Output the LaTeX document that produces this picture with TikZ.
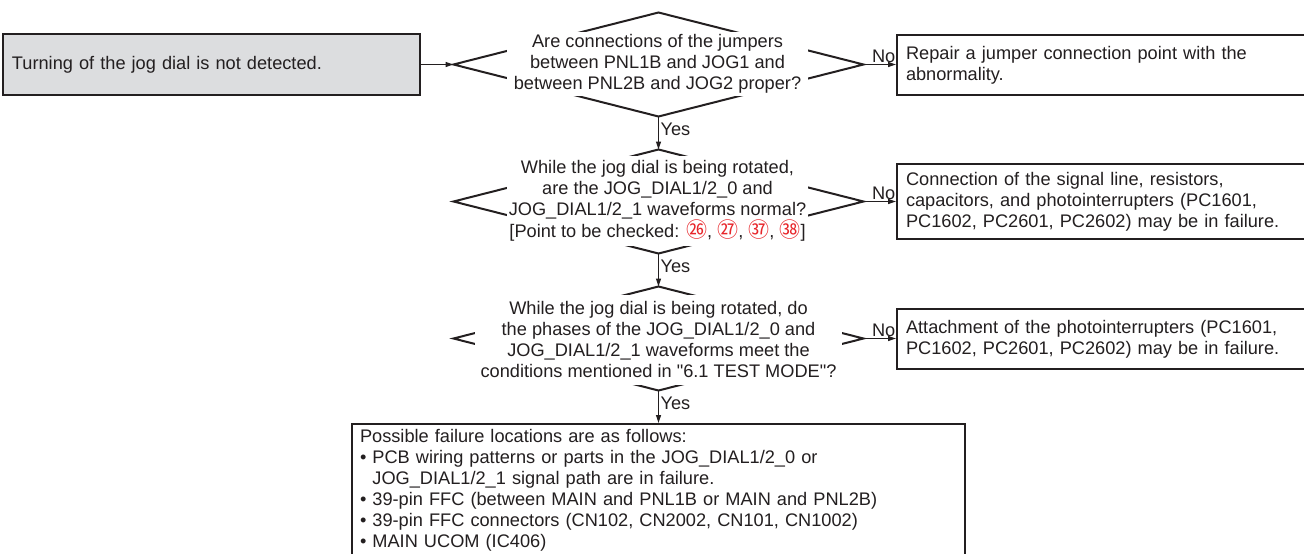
\documentclass[tikz,border=0pt]{standalone}
\usepackage{fontspec}
\setmainfont{Liberation Sans}[Ligatures=TeXOff]
\newfontfamily\cjkfont{Noto Sans CJK JP}
\usetikzlibrary{arrows.meta,shapes.geometric}
\definecolor{ink}{HTML}{231F20}
\definecolor{startgray}{HTML}{DCDDDF}
\definecolor{markred}{HTML}{E8262B}
% red circled test-point numbers
\newcommand{\tpnum}[1]{{\cjkfont\fontsize{21}{21}\selectfont\color{markred}#1}}

\begin{document}
\begin{tikzpicture}[x=1pt,y=-1pt,
  every node/.style={font=\fontsize{18.2}{21}\selectfont, text=ink},
  startbox/.style={draw=ink, line width=2pt, fill=startgray, inner xsep=9pt,
    inner ysep=0pt, align=left},
  resultbox/.style={draw=ink, line width=2pt, fill=white, inner xsep=9pt,
    inner ysep=0pt, align=left, text width=405pt},
  decision/.style={shape=diamond, draw=ink, line width=2pt, inner sep=0pt,
    outer sep=0pt, minimum width=410pt, minimum height=104pt},
  qtext/.style={fill=white, inner sep=0pt, align=center},
  conn/.style={draw=ink, line width=1.2pt, -{Triangle[length=8pt,width=5pt]}},
  branch/.style={inner sep=1.5pt}
]
\clip (0,0) rectangle (1304,554);

% starting symptom
\node[startbox, text width=399pt, minimum height=61pt] (start) at (211.5,64.5)
  {Turning of the jog dial is not detected.};

% first check: jumper connections
\node[decision] (q1) at (658.5,64.5) {};
\node[qtext, minimum width=301pt, minimum height=64pt] (q1t) at (657.5,64)
  {Are connections of the jumpers\\between PNL1B and JOG1 and\\between PNL2B and JOG2 proper?};
\node[resultbox, minimum height=60pt] (r1) at (1108.5,65)
  {Repair a jumper connection point with the\\abnormality.};

% second check: waveforms
\node[decision] (q2) at (658.5,201.5) {};
\node[qtext, minimum width=301pt, minimum height=90pt] (q2t) at (657.5,201)
  {While the jog dial is being rotated,\\are the JOG\_DIAL1/2\_0 and\\JOG\_DIAL1/2\_1 waveforms normal?\\
   {[}Point to be checked: \tpnum{㉖}, \tpnum{㉗}, \tpnum{㊲}, \tpnum{㊳}{]}};
\node[resultbox, minimum height=75pt] (r2) at (1108.5,201.5)
  {Connection of the signal line, resistors,\\capacitors, and photointerrupters (PC1601,\\PC1602, PC2601, PC2602) may be in failure.};

% third check: waveform phases
\node[decision] (q3) at (658.5,338.5) {};
\node[qtext, minimum width=367pt, minimum height=90pt] (q3t) at (658.5,339.5)
  {While the jog dial is being rotated, do\\the phases of the JOG\_DIAL1/2\_0 and\\JOG\_DIAL1/2\_1 waveforms meet the\\conditions mentioned in "6.1 TEST MODE"?};
\node[resultbox, minimum height=60pt] (r3) at (1108.5,339)
  {Attachment of the photointerrupters (PC1601,\\PC1602, PC2601, PC2602) may be in failure.};

% remaining failure locations
\node[draw=ink, line width=2pt, fill=white, anchor=north, inner xsep=8pt,
  inner ysep=5pt, text width=597pt, align=left] (fin) at (658.5,423)
  {Possible failure locations are as follows:\\
   • PCB wiring patterns or parts in the JOG\_DIAL1/2\_0 or\\
   \phantom{• }JOG\_DIAL1/2\_1 signal path are in failure.\\
   • 39-pin FFC (between MAIN and PNL1B or MAIN and PNL2B)\\
   • 39-pin FFC connectors (CN102, CN2002, CN101, CN1002)\\
   • MAIN UCOM (IC406)};

% connectors
\draw[conn] (start.east) -- (q1.west);
\draw[conn] (q1.east) -- node[above, branch, pos=0.62] {No} (q1.east -| r1.west);
\draw[conn] (q2.east) -- node[above, branch, pos=0.62] {No} (q2.east -| r2.west);
\draw[conn] (q3.east) -- node[above, branch, pos=0.62] {No} (q3.east -| r3.west);
\draw[conn] (q1.south) -- node[right, branch, pos=0.4] {Yes} (q2.north);
\draw[conn] (q2.south) -- node[right, branch, pos=0.4] {Yes} (q3.north);
\draw[conn] (q3.south) -- node[right, branch, pos=0.4] {Yes} (q3.south |- fin.north);
\end{tikzpicture}
\end{document}
